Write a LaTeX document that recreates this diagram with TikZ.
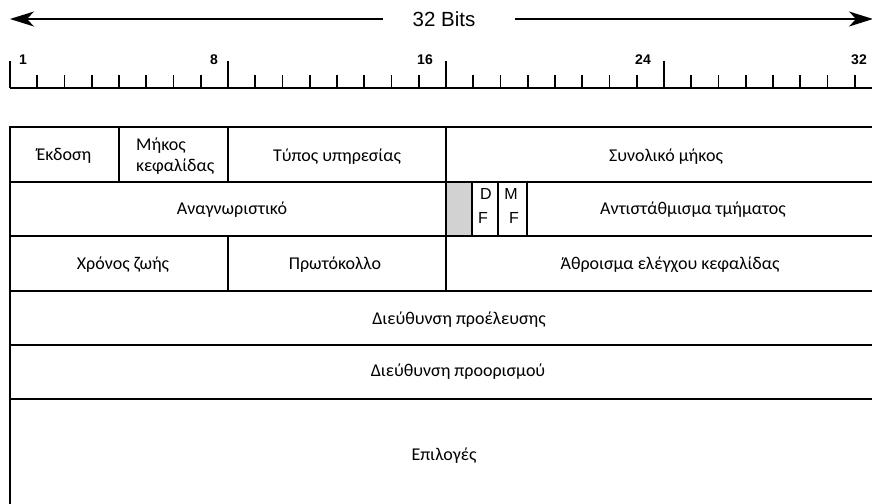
\documentclass[tikz,border=0pt]{standalone}
\usepackage{fontspec}
\setmainfont{Carlito}
\newfontfamily\arialf{Liberation Sans}
\usetikzlibrary{arrows.meta}
\begin{document}
\begin{tikzpicture}[x=1pt,y=-1pt,
  cellline/.style={line width=2pt, line cap=rect},
  rulerline/.style={line width=1.7pt},
  lbl/.style={font=\fontsize{18}{21}\selectfont, inner sep=0pt},
  flag/.style={font=\arialf\fontsize{16}{18}\selectfont, inner sep=0pt},
  num/.style={font=\arialf\bfseries\fontsize{14}{16}\selectfont, inner sep=0pt},
  bigarrow/.style={line width=1.6pt, -{Stealth[length=24pt,width=15pt,inset=7pt]}}
]
\useasboundingbox (0,0) rectangle (872,503);
\clip (0,0) rectangle (872,503);
% --- top arrow
\node[font=\arialf\fontsize{20.5}{24}\selectfont, inner sep=0pt] (bits) at (444,19) {32 Bits};
\coordinate (lstart) at (383,19);
\coordinate (rstart) at (515,19);
\coordinate (lend) at (10,19);
\coordinate (rend) at (873,19);
\draw[bigarrow] (lstart) -- (lend);
\draw[bigarrow] (rstart) -- (rend);
% --- ruler
\draw[rulerline] (10,88) -- (890,88);
\foreach \k in {0,...,32}{
  \pgfmathtruncatemacro{\m}{mod(\k,8)}
  \ifnum\m=0
    \draw[rulerline] ({10+27.25*\k},61) -- ({10+27.25*\k},88);
  \else
    \draw[rulerline] ({10+27.25*\k},75) -- ({10+27.25*\k},88);
  \fi
}
\node[num] (n1) at (23,60) {1};
\node[num] (n8) at (214,60) {8};
\node[num] (n16) at (425,60) {16};
\node[num] (n24) at (643,60) {24};
\node[num] (n32) at (859,60) {32};
% --- table
\fill[gray!35] (446,182) rectangle (472,236);
\draw[cellline] (10,127) rectangle (882,512);
\foreach \yy in {182,236,291,345,399}{ \draw[cellline] (10,\yy) -- (882,\yy); }
\draw[cellline] (119,127) -- (119,182);
\draw[cellline] (228,127) -- (228,182);
\draw[cellline] (446,127) -- (446,291);
\draw[cellline] (472,182) -- (472,236);
\draw[cellline] (498,182) -- (498,236);
\draw[cellline] (527,182) -- (527,236);
\draw[cellline] (228,236) -- (228,291);
% --- texts
\node[lbl] (ver) at (64,156) {Έκδοση};
\node[lbl, align=left, anchor=west] (ihl) at (136,156) {Μήκος\\κεφαλίδας};
\node[lbl] (tos) at (337,157) {Τύπος υπηρεσίας};
\node[lbl] (tlen) at (666,157) {Συνολικό μήκος};
\node[lbl] (ident) at (232,210) {Αναγνωριστικό};
\node[flag] (d1) at (486,194) {D};
\node[flag] (d2) at (483,218) {F};
\node[flag] (m1) at (511,194) {M};
\node[flag] (m2) at (514,218) {F};
\node[lbl] (frag) at (693,210) {Αντιστάθμισμα τμήματος};
\node[lbl] (ttl) at (123,265) {Χρόνος ζωής};
\node[lbl] (proto) at (335,265) {Πρωτόκολλο};
\node[lbl] (csum) at (670,265) {Άθροισμα ελέγχου κεφαλίδας};
\node[lbl] (src) at (459,320) {Διεύθυνση προέλευσης};
\node[lbl] (dst) at (458,372) {Διεύθυνση προορισμού};
\node[lbl] (opt) at (444,456) {Επιλογές};
\end{tikzpicture}
\end{document}
